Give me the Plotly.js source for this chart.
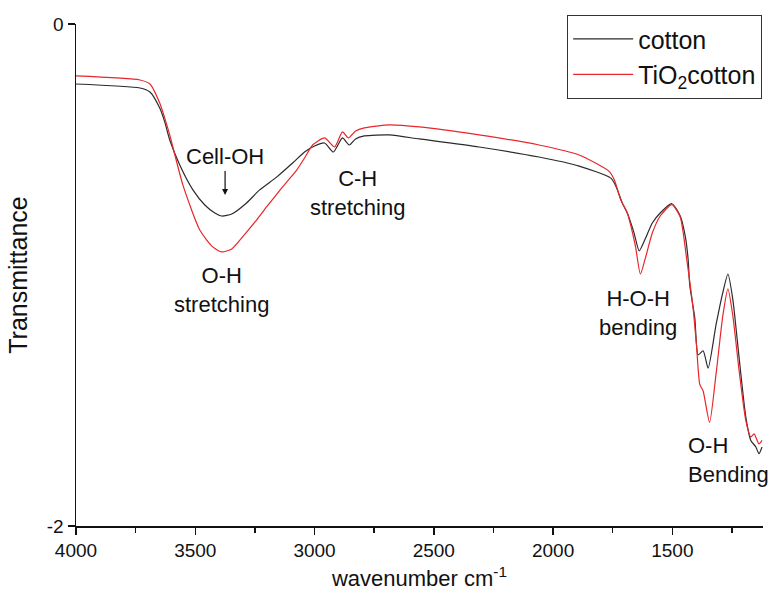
<!DOCTYPE html>
<html>
<head>
<meta charset="utf-8">
<script src="https://cdn.plot.ly/plotly-3.0.1.min.js"></script>
<style>
  html, body { margin: 0; padding: 0; background: #fff; }
  #chart { width: 771px; height: 612px; }
</style>
</head>
<body>
<div id="chart"></div>
<script>
// Wavenumber (cm^-1) and transmittance readings for each sample
var wnCotton = [4000, 3732, 3690, 3649, 3628, 3607, 3565, 3510, 3460, 3418, 3389, 3347, 3285, 3230, 3159, 3092, 3042, 3000, 2958, 2921, 2883, 2854, 2828, 2791, 2686, 2561, 2310, 2059, 1891, 1758, 1737, 1710, 1689, 1661, 1639, 1614, 1584, 1551, 1502, 1467, 1446, 1434, 1427, 1406, 1392, 1371, 1350, 1317, 1288, 1267, 1247, 1220, 1192, 1171, 1150, 1137, 1124];
var tCotton = [-0.239, -0.255, -0.271, -0.335, -0.390, -0.462, -0.562, -0.661, -0.721, -0.753, -0.765, -0.757, -0.713, -0.661, -0.610, -0.554, -0.510, -0.486, -0.474, -0.510, -0.454, -0.482, -0.458, -0.446, -0.442, -0.458, -0.490, -0.530, -0.566, -0.614, -0.645, -0.713, -0.753, -0.831, -0.904, -0.857, -0.793, -0.753, -0.716, -0.765, -0.845, -0.936, -1.041, -1.171, -1.318, -1.302, -1.371, -1.199, -1.068, -0.996, -1.094, -1.331, -1.566, -1.659, -1.685, -1.712, -1.685];

var wnTiO2 = [4000, 3732, 3690, 3649, 3628, 3607, 3552, 3481, 3427, 3389, 3347, 3285, 3243, 3201, 3134, 3075, 3042, 3008, 2958, 2916, 2883, 2858, 2828, 2791, 2686, 2561, 2310, 2059, 1891, 1764, 1743, 1716, 1689, 1655, 1634, 1614, 1584, 1551, 1502, 1467, 1440, 1413, 1399, 1385, 1371, 1344, 1317, 1288, 1267, 1247, 1220, 1192, 1171, 1157, 1137, 1124];
var tTiO2 = [-0.207, -0.223, -0.239, -0.315, -0.375, -0.442, -0.641, -0.821, -0.888, -0.908, -0.896, -0.829, -0.781, -0.729, -0.649, -0.582, -0.534, -0.482, -0.454, -0.490, -0.430, -0.454, -0.426, -0.414, -0.402, -0.410, -0.442, -0.482, -0.522, -0.588, -0.622, -0.701, -0.753, -0.884, -0.996, -0.936, -0.833, -0.765, -0.720, -0.769, -0.936, -1.133, -1.278, -1.436, -1.462, -1.587, -1.396, -1.159, -1.055, -1.159, -1.382, -1.580, -1.645, -1.633, -1.673, -1.659];

var seriesNames = ['cotton', 'TiO<sub>2</sub>cotton'];
var xTicks = [4000, 3500, 3000, 2500, 2000, 1500];
var yTicks = [0, -2];
var yTickText = ['0', '-2'];

var font = 'Liberation Sans, Arial, sans-serif';

var traces = [
  { x: wnCotton, y: tCotton, name: seriesNames[0], type: 'scatter', mode: 'lines',
    line: { color: '#2b2b2b', width: 1.2, shape: 'spline', smoothing: 0.6 } },
  { x: wnTiO2, y: tTiO2, name: seriesNames[1], type: 'scatter', mode: 'lines',
    line: { color: '#e8262b', width: 1.2, shape: 'spline', smoothing: 0.6 } }
];

var annFont = { size: 22, family: font, color: '#111' };

var layout = {
  width: 771, height: 612,
  margin: { l: 76, r: 8, t: 24, b: 86 },
  paper_bgcolor: '#fff', plot_bgcolor: '#fff',
  font: { family: font, color: '#111', size: 19 },
  showlegend: true,
  legend: {
    x: 0.9985, y: 1.018, xanchor: 'right', yanchor: 'top',
    bgcolor: '#fff', bordercolor: '#333', borderwidth: 1.2,
    font: { family: font, size: 25, color: '#111' },
    tracegroupgap: 0, itemwidth: 60
  },
  xaxis: {
    range: [4000, 1120],
    tickvals: xTicks,
    ticks: 'outside', ticklen: 7, tickwidth: 1.5, tickcolor: '#111',
    showline: true, linecolor: '#111', linewidth: 1.5,
    showgrid: false, zeroline: false,
    tickfont: { family: font, size: 19, color: '#111' },
    minor: { dtick: 250, ticks: 'outside', ticklen: 5, tickwidth: 1.5, tickcolor: '#111', showgrid: false },
    title: { text: 'wavenumber cm<sup>-1</sup>', font: { family: font, size: 22, color: '#111' }, standoff: 10 }
  },
  yaxis: {
    range: [-2, 0],
    tickvals: yTicks, ticktext: yTickText,
    ticks: 'outside', ticklen: 7, tickwidth: 1.5, tickcolor: '#111',
    showline: true, linecolor: '#111', linewidth: 1.5,
    showgrid: false, zeroline: false,
    tickfont: { family: font, size: 19, color: '#111' },
    title: { text: 'Transmittance', font: { family: font, size: 25, color: '#111' }, standoff: 12 }
  },
  annotations: [
    { x: 3375, y: -0.681, xref: 'x', yref: 'y', text: 'Cell-OH', showarrow: true,
      ax: 0, ay: -38, arrowhead: 2, arrowsize: 1, arrowwidth: 1.2,
      arrowcolor: '#111', font: annFont },
    { x: 2822, y: -0.673, xref: 'x', yref: 'y', text: 'C-H<br>stretching', showarrow: false,
      font: annFont, align: 'center' },
    { x: 3388, y: -1.060, xref: 'x', yref: 'y', text: 'O-H<br>stretching', showarrow: false,
      font: annFont, align: 'center' },
    { x: 1644, y: -1.151, xref: 'x', yref: 'y', text: 'H-O-H<br>bending', showarrow: false,
      font: annFont, align: 'center' },
    { x: 1442, y: -1.737, xref: 'x', yref: 'y', text: 'O-H<br>Bending', showarrow: false,
      font: annFont, align: 'left', xanchor: 'left' }
  ]
};

Plotly.newPlot('chart', traces, layout, { displayModeBar: false, staticPlot: true });
</script>
</body>
</html>
